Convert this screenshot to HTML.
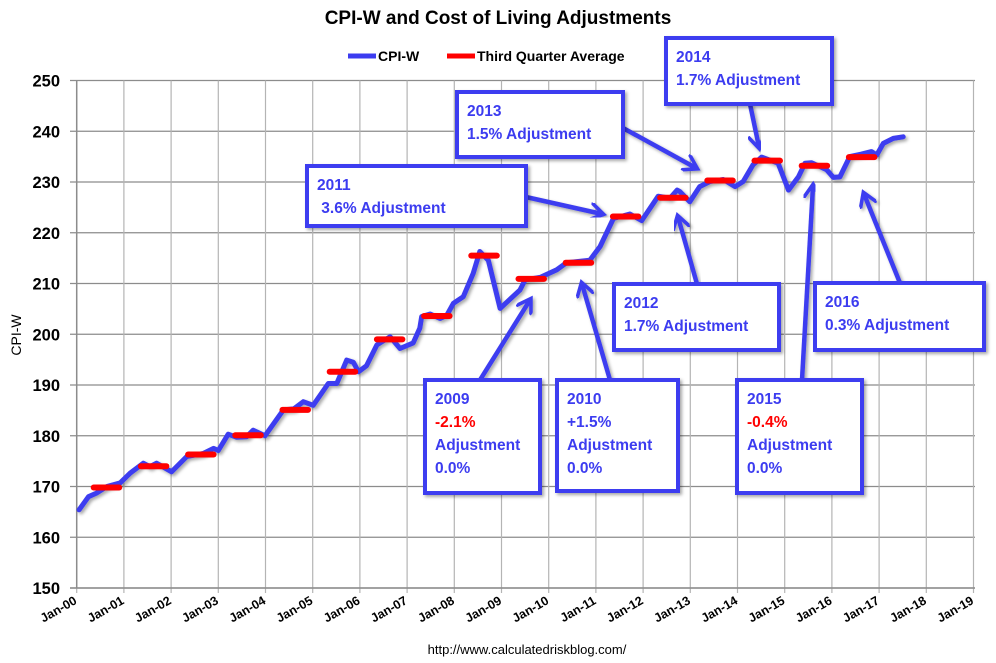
<!DOCTYPE html>
<html><head><meta charset="utf-8"><style>
body{margin:0;background:#fff;}
svg{display:block;font-family:"Liberation Sans",sans-serif;}
.pre{white-space:pre;}
</style></head><body>
<svg id="chart" width="996" height="663" viewBox="0 0 996 663">
<defs>
<filter id="sh" x="-20%" y="-20%" width="140%" height="140%"><feDropShadow dx="2" dy="2" stdDeviation="1.5" flood-color="#000" flood-opacity="0.35"/></filter>
<marker id="ah" viewBox="0 0 10 10" refX="7" refY="5" markerWidth="4" markerHeight="4" orient="auto"><path d="M0,0 L8,5 L0,10" fill="none" stroke="#3c3cf0" stroke-width="2"/></marker>
</defs>
<text x="498" y="24" text-anchor="middle" font-size="19" font-weight="bold">CPI-W and Cost of Living Adjustments</text>
<g>
<line x1="348" y1="56" x2="376" y2="56" stroke="#3c3cf0" stroke-width="5"/>
<text x="378" y="61" font-size="14" font-weight="bold">CPI-W</text>
<line x1="447" y1="56" x2="475" y2="56" stroke="#f00" stroke-width="5"/>
<text x="477" y="61" font-size="14" font-weight="bold">Third Quarter Average</text>
</g>
<text transform="translate(21,335) rotate(-90)" text-anchor="middle" font-size="14">CPI-W</text>
<g id="grid"></g><g id="axes"></g><g id="series"></g><g id="ann"></g>
<text x="527" y="654" text-anchor="middle" font-size="13">http://www.calculatedriskblog.com/</text>
</svg>
<script>
const yTicks=[150,160,170,180,190,200,210,220,230,240,250];
const xLabels=["Jan-00","Jan-01","Jan-02","Jan-03","Jan-04","Jan-05","Jan-06","Jan-07","Jan-08","Jan-09","Jan-10","Jan-11","Jan-12","Jan-13","Jan-14","Jan-15","Jan-16","Jan-17","Jan-18","Jan-19"];
const cpiYears=[0.05,0.25,0.42,0.64,0.92,1.13,1.41,1.55,1.69,2.01,2.33,2.68,2.9,3.0,3.21,3.39,3.6,3.74,3.99,4.38,4.6,4.8,5.01,5.33,5.51,5.72,5.86,5.97,6.14,6.36,6.64,6.85,7.13,7.27,7.31,7.49,7.7,7.84,7.98,8.19,8.4,8.54,8.72,8.97,9.39,9.5,9.82,10.17,10.38,10.87,11.09,11.37,11.72,11.97,12.32,12.57,12.72,12.78,12.99,13.2,13.42,13.7,13.95,14.12,14.33,14.51,14.86,15.08,15.29,15.43,15.57,15.89,16.03,16.17,16.38,16.63,16.84,16.95,17.09,17.3,17.51];
const cpiValues=[165.4,168,168.7,170,170.7,172.6,174.6,173.9,174.6,172.9,175.9,176.5,177.5,177.1,180.3,179.7,179.8,181.1,180,185.1,185.3,186.7,186,190.3,190.3,194.9,194.5,192.6,193.8,197.9,199.5,197.2,198.3,201.2,203.5,204,203.1,203.7,206.1,207.4,212,216.3,214.6,205.1,208.7,210.7,211.2,212.7,214.1,214.6,217.3,222.8,223.7,222.4,227.2,226.8,228.4,228.1,226.1,229.1,230.1,230.5,229.1,230.1,233.4,234.9,233.7,228.4,231,233.7,233.8,232.4,230.9,231,235,235.5,236,235.3,237.6,238.6,238.9];
const q3Years=[2000,2001,2002,2003,2004,2005,2006,2007,2008,2009,2010,2011,2012,2013,2014,2015,2016];
const q3Values=[169.8,174.0,176.3,180.1,185.1,192.6,199.0,203.6,215.5,210.9,214.1,223.2,226.9,230.3,234.2,233.2,234.9];
const X0=76.7,PX=47.2,Y0=80.5,PY=5.075,LEFT=70,RIGHT=975;
const xs=t=>X0+t*PX, ys=v=>Y0+(250-v)*PY;
const NS="http://www.w3.org/2000/svg";
function mk(tag,at,par){const e=document.createElementNS(NS,tag);for(const k in at)e.setAttribute(k,at[k]);document.getElementById(par).appendChild(e);return e;}
yTicks.forEach(v=>{
 const l=mk('line',{x1:LEFT,x2:RIGHT,y1:ys(v),y2:ys(v),stroke:'#8c8c8c','stroke-width':1.2},'grid');
 
 
 const t=mk('text',{x:60,y:ys(v)+6,'text-anchor':'end','font-size':16.5,'font-weight':'bold'},'axes');
 t.textContent=v;
 
 
});
xLabels.forEach((lab,i)=>{
 const x=xs(i);
 const l=mk('line',{x1:x,x2:x,y1:Y0,y2:ys(150)+5,stroke:'#b4b4b4','stroke-width':1.2},'grid');
 
 
 const t=mk('text',{transform:`translate(${x+1},${ys(150)+15}) rotate(-30)`,'text-anchor':'end','font-size':12.5,'font-weight':'bold'},'axes');
 t.textContent=lab;
 
 
});
const ax=mk('line',{x1:X0,x2:X0,y1:Y0,y2:ys(150),stroke:'#8c8c8c','stroke-width':1.5},'axes');


const bx=mk('line',{x1:LEFT,x2:RIGHT,y1:ys(150),y2:ys(150),stroke:'#8c8c8c','stroke-width':1.5},'axes');


const pts=cpiYears.map((t,i)=>xs(t).toFixed(1)+','+ys(cpiValues[i]).toFixed(1)).join(' ');
const pl=mk('polyline',{points:pts,fill:'none',stroke:'#3c3cf0','stroke-width':5,'stroke-linejoin':'round','stroke-linecap':'round',filter:'url(#sh)'},'series');


q3Years.forEach((y,i)=>{
 const t=y-2000;
 const l=mk('line',{x1:xs(t+0.36),x2:xs(t+0.9),y1:ys(q3Values[i]),y2:ys(q3Values[i]),stroke:'#f00','stroke-width':6,'stroke-linecap':'round'},'series');
 
 
});
const arrows=[[526,197,602,214],[623,128,696,168],[750,104,759,147],[697,284,678,217],[900,283,864,194],[480,380,530,300],[610,380,582,284],[802,380,813,186]];
arrows.forEach(a=>{
 const l=mk('line',{x1:a[0],y1:a[1],x2:a[2],y2:a[3],stroke:'#3c3cf0','stroke-width':4.5,'marker-end':'url(#ah)',filter:'url(#sh)'},'ann');
 
 
});
const boxes=[
 [666,38,166,66,[["2014","#3c3cf0"],["1.7% Adjustment","#3c3cf0"]],'box-2014'],
 [457,92,166,65,[["2013","#3c3cf0"],["1.5% Adjustment","#3c3cf0"]],'box-2013'],
 [307,166,219,60,[["2011","#3c3cf0"],[" 3.6% Adjustment","#3c3cf0"]],'box-2011'],
 [614,284,165,66,[["2012","#3c3cf0"],["1.7% Adjustment","#3c3cf0"]],'box-2012'],
 [815,283,169,67,[["2016","#3c3cf0"],["0.3% Adjustment","#3c3cf0"]],'box-2016'],
 [425,380,115,113,[["2009","#3c3cf0"],["-2.1%","#f00"],["Adjustment","#3c3cf0"],["0.0%","#3c3cf0"]],'box-2009'],
 [557,380,121,111,[["2010","#3c3cf0"],["+1.5%","#3c3cf0"],["Adjustment","#3c3cf0"],["0.0%","#3c3cf0"]],'box-2010'],
 [737,380,125,113,[["2015","#3c3cf0"],["-0.4%","#f00"],["Adjustment","#3c3cf0"],["0.0%","#3c3cf0"]],'box-2015']
];
boxes.forEach(b=>{
 const r=mk('rect',{x:b[0],y:b[1],width:b[2],height:b[3],fill:'#fff',stroke:'#3c3cf0','stroke-width':4,filter:'url(#sh)'},'ann');
 
 
 b[4].forEach((ln,j)=>{
  const t=mk('text',{x:b[0]+10,y:b[1]+24+j*23,'font-size':15.5,'font-weight':'bold',fill:ln[1],'class':'pre'},'ann');
  t.textContent=ln[0];
  
  
 });
});
</script>
</body></html>
